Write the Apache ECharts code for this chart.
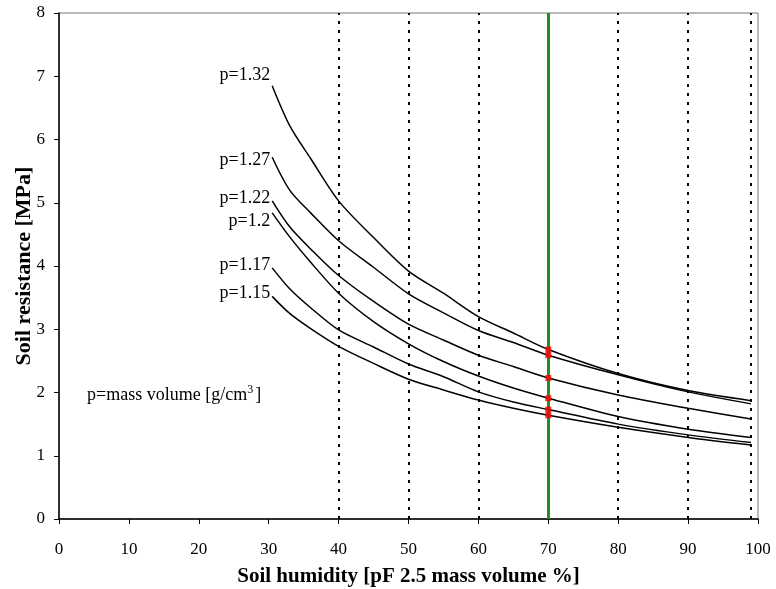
<!DOCTYPE html>
<html>
<head>
<meta charset="utf-8">
<script src="https://cdn.jsdelivr.net/npm/echarts@6/dist/echarts.min.js"></script>
<style>html,body{margin:0;padding:0;background:#fff;}#chart{width:776px;height:589px;}</style>
</head>
<body>
<div id="chart"></div>
<script>
// Soil humidity sample points (x)
const humidity = [30.5, 33, 36, 40, 45, 50, 55, 60, 65, 70, 80, 90, 99];
// Soil resistance [MPa] per mass volume
const seriesNames = ['p=1.32', 'p=1.27', 'p=1.22', 'p=1.2', 'p=1.17', 'p=1.15'];
const p132 = [6.85, 6.22, 5.70, 5.03, 4.45, 3.92, 3.57, 3.20, 2.94, 2.68, 2.30, 2.03, 1.87];
const p127 = [5.72, 5.20, 4.84, 4.40, 3.98, 3.56, 3.26, 2.98, 2.79, 2.59, 2.28, 2.01, 1.82];
const p122 = [5.03, 4.62, 4.27, 3.85, 3.44, 3.08, 2.83, 2.59, 2.41, 2.23, 1.96, 1.75, 1.58];
const p120 = [4.84, 4.46, 4.06, 3.57, 3.12, 2.77, 2.49, 2.26, 2.07, 1.91, 1.62, 1.42, 1.29];
const p117 = [3.97, 3.64, 3.34, 2.99, 2.72, 2.45, 2.25, 2.01, 1.85, 1.73, 1.50, 1.33, 1.21];
const p115 = [3.52, 3.25, 3.01, 2.73, 2.46, 2.21, 2.04, 1.88, 1.75, 1.64, 1.45, 1.29, 1.17];
const seriesValues = [p132, p127, p122, p120, p117, p115];
// Marked points on the 70 % line
const markHumidity = 70;
const markValues = [2.68, 2.59, 2.23, 1.91, 1.73, 1.64];
// Reference lines
const dottedLines = [40, 50, 60, 80, 90, 99];
const xTicks = [0, 10, 20, 30, 40, 50, 60, 70, 80, 90, 100];
const yTicks = [0, 1, 2, 3, 4, 5, 6, 7, 8];

const labelOffsets = [[0, -10], [0, 3], [0, -3], [0, 8], [0, -3], [0, -3]];
const FONT = "'Liberation Serif', 'DejaVu Serif', serif";

const lineSeries = seriesValues.map((vals, si) => ({
  type: 'line',
  name: seriesNames[si],
  smooth: 0.3,
  showSymbol: true,
  symbol: 'circle',
  symbolSize: 0,
  lineStyle: { color: '#000', width: 1.5 },
  itemStyle: { color: '#000' },
  emphasis: { disabled: true },
  z: 3,
  data: humidity.map((h, i) => {
    const item = { value: [h, vals[i]] };
    if (i === 0) {
      item.label = {
        show: true, position: 'left', distance: 2,
        offset: labelOffsets[si],
        formatter: seriesNames[si],
        color: '#000', fontFamily: FONT, fontSize: 18
      };
    }
    return item;
  })
}));

lineSeries[0].markLine = {
  silent: true, symbol: 'none', label: { show: false },
  animation: false,
  data: dottedLines.map(x => ({ xAxis: x, lineStyle: { color: '#000', width: 2, type: [3, 6] } }))
    .concat([{ xAxis: markHumidity, lineStyle: { color: '#1f8f1f', width: 3, type: 'solid' } }])
};

const chart = echarts.init(document.getElementById('chart'), null, { renderer: 'canvas' });
chart.setOption({
  animation: false,
  backgroundColor: '#fff',
  grid: { left: 59, right: 18, top: 13, bottom: 70, containLabel: false, outerBoundsMode: 'none',
    show: true, borderColor: '#777', borderWidth: 1, backgroundColor: 'transparent' },
  xAxis: {
    type: 'value', min: 0, max: 100, interval: 10,
    name: 'Soil humidity [pF 2.5 mass volume %]',
    nameLocation: 'middle', nameGap: 47,
    nameTextStyle: { fontFamily: FONT, fontSize: 21, fontWeight: 'bold', color: '#000' },
    axisLine: { show: true, onZero: false, lineStyle: { color: '#000', width: 1.5 } },
    axisTick: { show: true, inside: false, length: 5, lineStyle: { color: '#000' } },
    axisLabel: { margin: 22, fontFamily: FONT, fontSize: 17, color: '#000',
      formatter: v => xTicks.includes(v) ? String(v) : '' },
    splitLine: { show: false }
  },
  yAxis: {
    type: 'value', min: 0, max: 8, interval: 1,
    name: 'Soil resistance [MPa]',
    nameLocation: 'middle', nameGap: 24, nameRotate: 90, nameMoveOverlap: false,
    nameTextStyle: { fontFamily: FONT, fontSize: 22, fontWeight: 'bold', color: '#000' },
    axisLine: { show: true, onZero: false, lineStyle: { color: '#000', width: 1.5 } },
    axisTick: { show: true, inside: false, length: 5, lineStyle: { color: '#000' } },
    axisLabel: { margin: 14, fontFamily: FONT, fontSize: 17, color: '#000',
      formatter: v => yTicks.includes(v) ? String(v) : '' },
    splitLine: { show: false }
  },
  graphic: [{
    type: 'text', left: 87, top: 384,
    style: {
      text: 'p=mass volume [g/cm{sup|3}]',
      fontFamily: FONT, fontSize: 18, fill: '#000',
      rich: { sup: { fontFamily: FONT, fontSize: 12, fill: '#000', padding: [0, 2, 10, 0] } }
    }
  }],
  series: lineSeries.concat([{
    type: 'scatter',
    symbol: 'rect', symbolSize: 6,
    itemStyle: { color: '#ff0000' },
    z: 5,
    data: markValues.map(v => [markHumidity, v])
  }])
});
</script>
</body>
</html>
